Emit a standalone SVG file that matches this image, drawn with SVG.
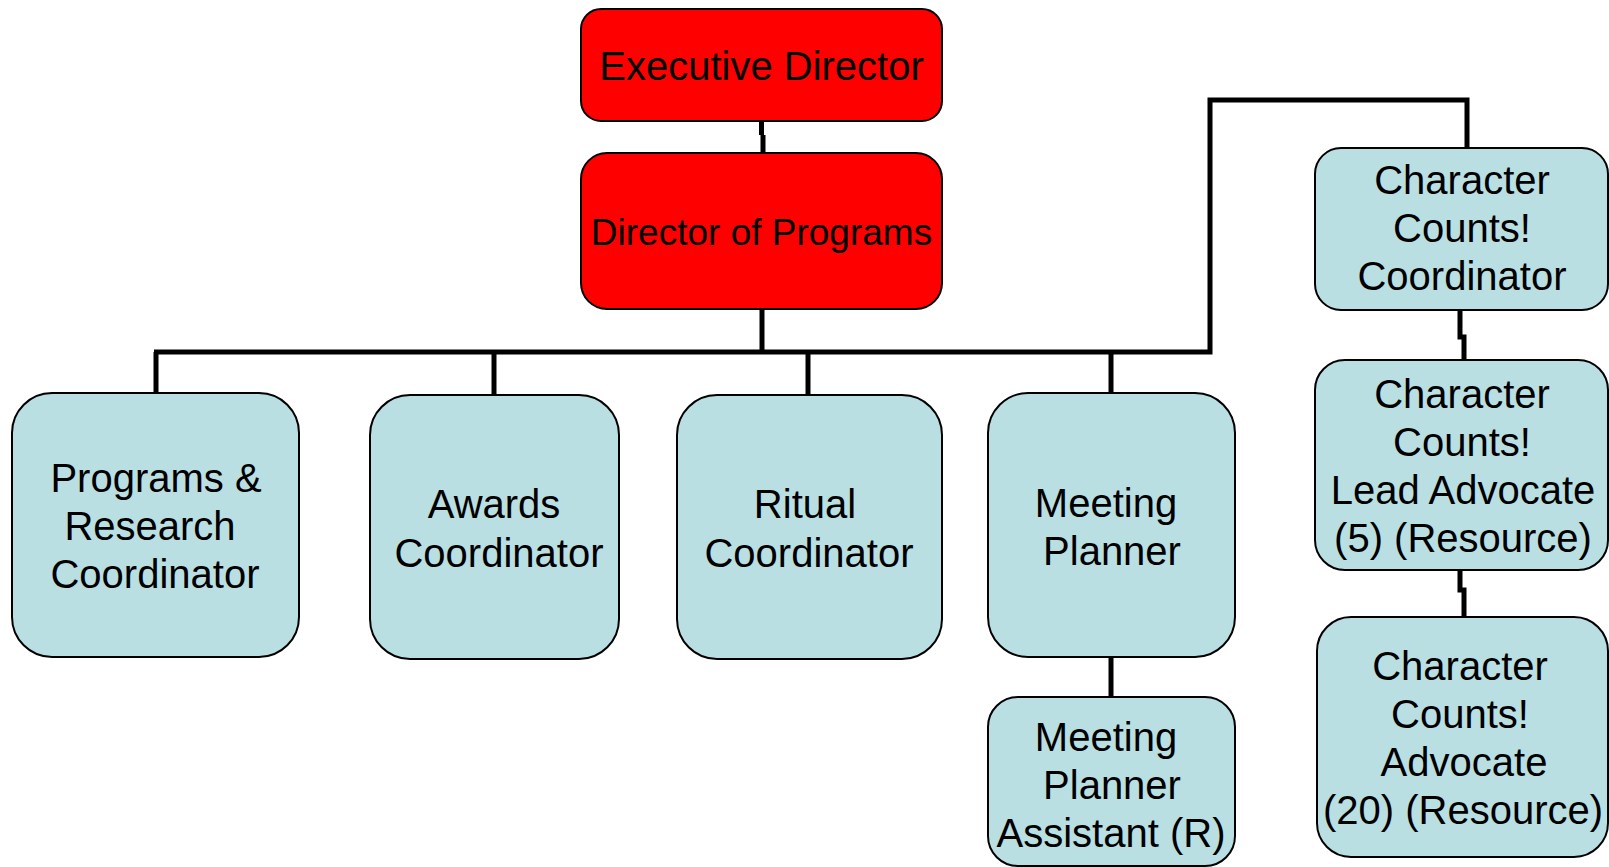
<svg xmlns="http://www.w3.org/2000/svg" width="1609" height="867" viewBox="0 0 1609 867">
<style>
  .red { fill: #FF0000; stroke: #000; stroke-width: 2; }
  .blue { fill: #B9DFE3; stroke: #000; stroke-width: 2; }
  text { font-family: "Liberation Sans", Arial, sans-serif; font-size: 40px; fill: #000; text-anchor: middle; }
  .conn { fill: none; stroke: #000; stroke-width: 5; stroke-linejoin: miter; stroke-linecap: butt; }
</style>
<rect width="1609" height="867" fill="#fff"/>
<g id="connectors">
  <path class="conn" d="M761.5 121 V135 M763 135 V153" stroke-width="4"/>
  <path class="conn" d="M762 309 V352" stroke-width="6"/>
  <path class="conn" d="M154 352 H762" stroke-width="6"/>
  <path class="conn" d="M762 352 H1210 V100 H1467 V148"/>
  <path class="conn" d="M156 352 V393"/>
  <path class="conn" d="M494 352 V395"/>
  <path class="conn" d="M808 352 V395"/>
  <path class="conn" d="M1111 352 V393"/>
  <path class="conn" d="M1111 657 V697"/>
  <path class="conn" d="M1460 310 V337 H1464 V360"/>
  <path class="conn" d="M1460 570 V590 H1464 V617"/>
</g>
<g id="exec">
  <rect class="red" x="581" y="9" width="361" height="112" rx="20"/>
  <text x="761.5" y="80">Executive Director</text>
</g>
<g id="dop">
  <rect class="red" x="581" y="153" width="361" height="156" rx="26"/>
  <text x="761.5" y="245" style="font-size:37px">Director of Programs</text>
</g>
<g id="programs">
  <rect class="blue" x="12" y="393" width="287" height="264" rx="40"/>
  <text x="156" y="492">Programs &amp;</text>
  <text x="150" y="540">Research</text>
  <text x="155" y="588">Coordinator</text>
</g>
<g id="awards">
  <rect class="blue" x="370" y="395" width="249" height="264" rx="40"/>
  <text x="494" y="518">Awards</text>
  <text x="499" y="567">Coordinator</text>
</g>
<g id="ritual">
  <rect class="blue" x="677" y="395" width="265" height="264" rx="40"/>
  <text x="805" y="518">Ritual</text>
  <text x="809" y="567">Coordinator</text>
</g>
<g id="meeting">
  <rect class="blue" x="988" y="393" width="247" height="264" rx="40"/>
  <text x="1106" y="517">Meeting</text>
  <text x="1112" y="565">Planner</text>
</g>
<g id="meeting-assistant">
  <rect class="blue" x="988" y="697" width="247" height="169" rx="30"/>
  <text x="1106" y="751">Meeting</text>
  <text x="1112" y="799">Planner</text>
  <text x="1111" y="847">Assistant (R)</text>
</g>
<g id="cc-coordinator">
  <rect class="blue" x="1315" y="148" width="293" height="162" rx="26"/>
  <text x="1462" y="194">Character</text>
  <text x="1462" y="242">Counts!</text>
  <text x="1462" y="290">Coordinator</text>
</g>
<g id="cc-lead">
  <rect class="blue" x="1315" y="360" width="293" height="210" rx="30"/>
  <text x="1462" y="408">Character</text>
  <text x="1462" y="456">Counts!</text>
  <text x="1463" y="504">Lead Advocate</text>
  <text x="1463" y="552">(5) (Resource)</text>
</g>
<g id="cc-advocate">
  <rect class="blue" x="1317" y="617" width="291" height="240" rx="34"/>
  <text x="1460" y="680">Character</text>
  <text x="1460" y="728">Counts!</text>
  <text x="1464" y="776">Advocate</text>
  <text x="1463" y="824">(20) (Resource)</text>
</g>
</svg>
